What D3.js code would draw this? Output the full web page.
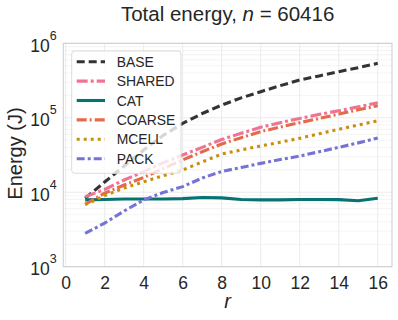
<!DOCTYPE html>
<html>
<head>
<meta charset="utf-8">
<script src="https://cdn.jsdelivr.net/npm/d3@7"></script>
<style>
  body { margin: 0; background: #fff; }
  svg { font-family: "Liberation Sans", Arial, sans-serif; }
</style>
</head>
<body>
<div id="chart-area"></div>
<script>
// chart values
const rValues = [1, 2, 3, 4, 5, 6, 7, 8, 9, 10, 11, 12, 13, 14, 15, 16];
const seriesNames = ["BASE", "SHARED", "CAT", "COARSE", "MCELL", "PACK"];
const base   = [8300, 13700, 22500, 36900, 58000, 84000, 114000, 148000, 185000, 224000, 270000, 321000, 365000, 416000, 470000, 538000];
const shared = [8700, 10900, 14600, 18900, 24900, 31600, 40100, 51000, 62000, 74500, 86000, 98000, 111000, 124000, 140000, 159000];
const cat    = [7900, 8000, 8100, 8100, 8100, 8200, 8500, 8400, 8000, 7900, 7900, 8000, 8000, 7950, 7700, 8300];
const coarse = [6900, 9700, 12500, 15800, 20800, 27100, 35000, 44500, 54000, 65000, 75000, 86000, 98000, 112000, 128000, 145000];
const mcell  = [6800, 9000, 11400, 13800, 16700, 19900, 25500, 32600, 37000, 41800, 47000, 53000, 61000, 70000, 80000, 91000];
const pack   = [2800, 3850, 5600, 7900, 9900, 11900, 15500, 19000, 21500, 24400, 27500, 30600, 35000, 40100, 46000, 53500];
const xTicks = [0, 2, 4, 6, 8, 10, 12, 14, 16];
const yTickExps = [3, 4, 5, 6];

const seriesValues = [base, shared, cat, coarse, mcell, pack];
const colors = ["#333333", "#ef7494", "#077272", "#e56a4b", "#c98e0b", "#7474d6"];
const dashes = ["8,4", "11,3,3,3", null, "10,3,2,3", "3,4", "8,3,3,3"];

const W = 398, H = 320;
const margin = { left: 63.3, right: 6, top: 43.3, bottom: 53.3 };
const width = W - margin.left - margin.right,
      height = H - margin.top - margin.bottom;

const svg = d3.select("#chart-area")
    .append("svg")
    .attr("width", W)
    .attr("height", H);

const g = svg.append("g")
    .attr("transform", "translate(" + margin.left + ", " + margin.top + ")");

const x = d3.scaleLinear().domain([-0.12, 16.73]).range([0, width]);
const y = d3.scaleLog().domain([1e3, 1e6]).range([height, 0]);

// minor grid (log minor ticks)
const minor = [];
for (let e = 3; e < 6; e++) for (let k = 2; k <= 9; k++) minor.push(k * Math.pow(10, e));
g.selectAll(".minor").data(minor).enter().append("line")
    .attr("x1", 0).attr("x2", width)
    .attr("y1", d => y(d)).attr("y2", d => y(d))
    .attr("stroke", "#ededed").attr("stroke-width", 0.6);

// major grid
g.selectAll(".gx").data(xTicks).enter().append("line")
    .attr("x1", d => x(d)).attr("x2", d => x(d))
    .attr("y1", 0).attr("y2", height)
    .attr("stroke", "#ebebeb").attr("stroke-width", 1);
g.selectAll(".gy").data(yTickExps).enter().append("line")
    .attr("x1", 0).attr("x2", width)
    .attr("y1", d => y(Math.pow(10, d))).attr("y2", d => y(Math.pow(10, d)))
    .attr("stroke", "#ebebeb").attr("stroke-width", 1);

// frame
g.append("rect")
    .attr("width", width).attr("height", height)
    .attr("fill", "none").attr("stroke", "#cfcfcf").attr("stroke-width", 1.1);

// x axis labels
const xAxis = g.append("g")
    .attr("transform", "translate(0, " + height + ")")
    .call(d3.axisBottom(x).tickValues(xTicks).tickSize(0).tickPadding(0));
xAxis.select(".domain").remove();
xAxis.selectAll("text")
    .attr("y", 22)
    .attr("dy", 0)
    .attr("font-size", "17.5px")
    .attr("font-family", "Liberation Sans, Arial, sans-serif")
    .attr("fill", "#262626");

// y axis labels: 10^k
const yl = g.selectAll(".ylab").data(yTickExps).enter().append("text")
    .attr("x", -6.6)
    .attr("y", d => y(Math.pow(10, d)) + 8.4)
    .attr("text-anchor", "end")
    .attr("font-size", "17.5px")
    .attr("fill", "#262626");
yl.append("tspan").text("10");
yl.append("tspan")
    .attr("font-size", "12.5px")
    .attr("dy", -11.7)
    .text(d => d);

// lines
const line = d3.line()
    .x((d, i) => x(rValues[i]))
    .y(d => y(d))
    .curve(d3.curveLinear);

seriesValues.forEach(function(vals, i) {
    g.append("path")
        .datum(vals)
        .attr("d", line)
        .attr("fill", "none")
        .attr("stroke", colors[i])
        .attr("stroke-width", 3.1)
        .attr("stroke-dasharray", dashes[i])
        .attr("stroke-linejoin", "round");
});

// legend
const lg = svg.append("g").attr("transform", "translate(71.7, 51)");
lg.append("rect")
    .attr("width", 109.3).attr("height", 122.3)
    .attr("rx", 3).attr("ry", 3)
    .attr("fill", "#ffffff").attr("fill-opacity", 0.8)
    .attr("stroke", "#dcdcdc").attr("stroke-width", 1);
seriesNames.forEach(function(name, i) {
    const yy = 10.7 + i * 19.4;
    lg.append("line")
        .attr("x1", 5).attr("x2", 33.3)
        .attr("y1", yy).attr("y2", yy)
        .attr("stroke", colors[i])
        .attr("stroke-width", 3.1)
        .attr("stroke-dasharray", dashes[i]);
    lg.append("text")
        .attr("x", 45)
        .attr("y", yy + 5)
        .attr("font-size", "13.9px")
        .attr("fill", "#262626")
        .text(name);
});

// title
const title = svg.append("text")
    .attr("x", margin.left + width / 2)
    .attr("y", 21)
    .attr("text-anchor", "middle")
    .attr("font-size", "20.5px")
    .attr("fill", "#262626");
title.append("tspan").text("Total energy, ");
title.append("tspan").attr("font-style", "italic").text("n");
title.append("tspan").text(" = 60416");

// axis labels
svg.append("text")
    .attr("x", margin.left + width / 2)
    .attr("y", 308)
    .attr("text-anchor", "middle")
    .attr("font-size", "20px")
    .attr("font-style", "italic")
    .attr("fill", "#262626")
    .text("r");

svg.append("text")
    .attr("transform", "translate(21.7, 153.5) rotate(-90)")
    .attr("text-anchor", "middle")
    .attr("font-size", "20px")
    .attr("fill", "#262626")
    .text("Energy (J)");
</script>
</body>
</html>
